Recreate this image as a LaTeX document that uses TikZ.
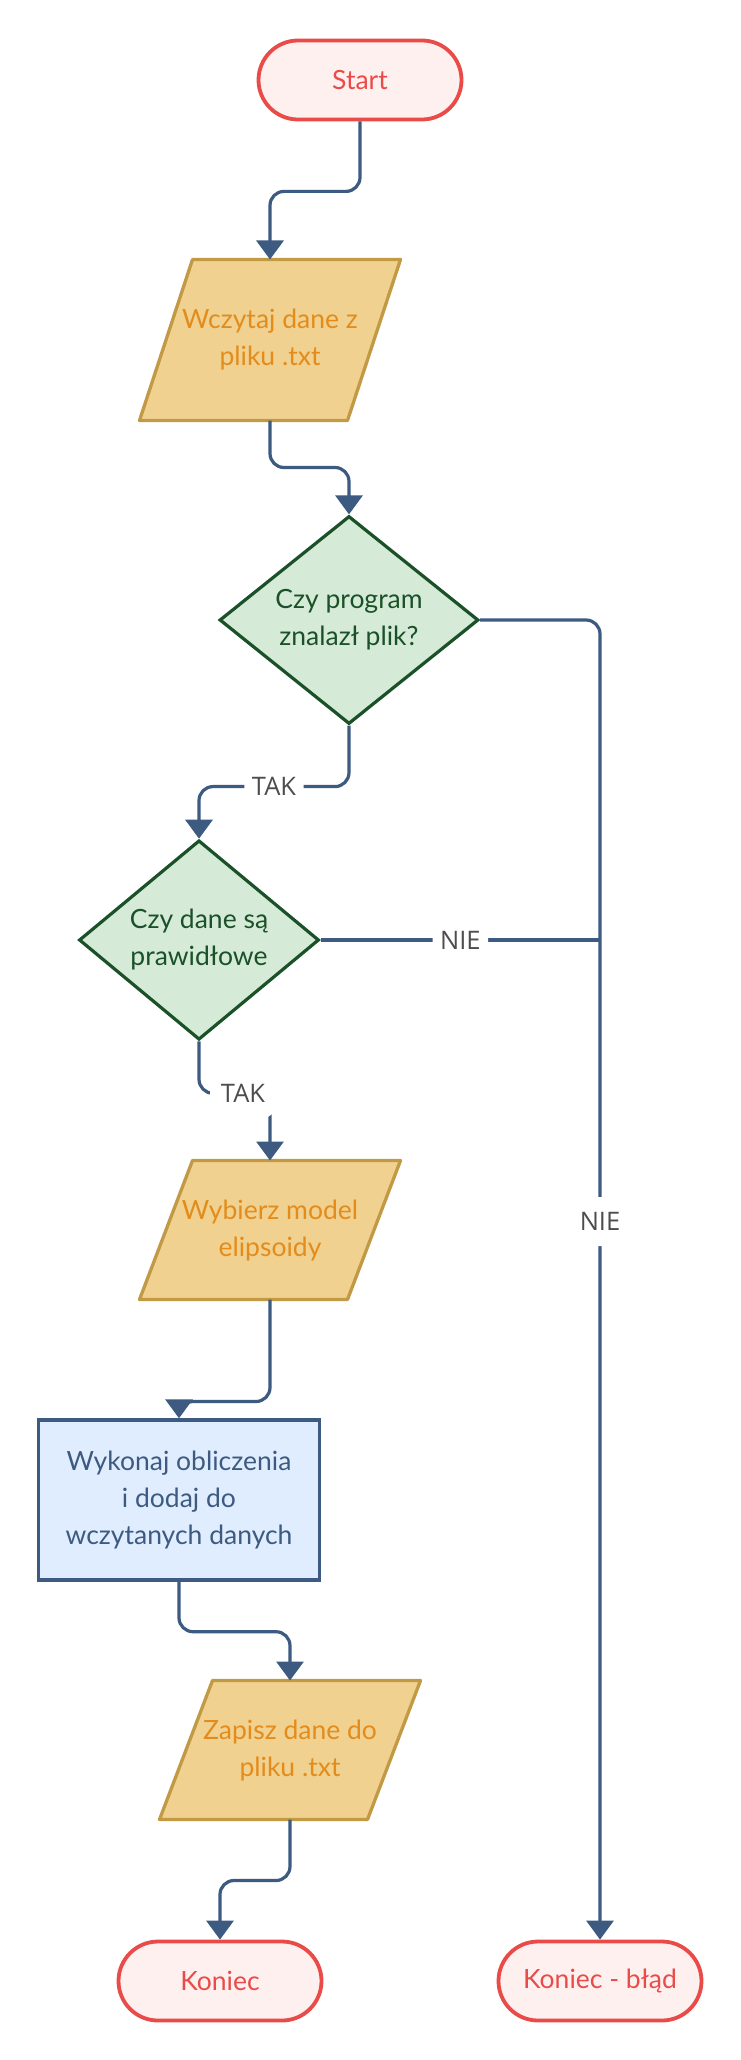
\documentclass[tikz,border=0pt]{standalone}
\usepackage{fontspec}
\setmainfont{Lato}
\newfontfamily\lblfont{Open Sans}
\usetikzlibrary{shapes.geometric,arrows.meta}
\pgfdeclarelayer{bg}
\pgfsetlayers{bg,main}
\definecolor{termfill}{HTML}{FFF0F0}
\definecolor{termdraw}{HTML}{E94B48}
\definecolor{iofill}{HTML}{F0D18F}
\definecolor{iodraw}{HTML}{C29A45}
\definecolor{iotext}{HTML}{E38C1C}
\definecolor{decfill}{HTML}{D5EBD8}
\definecolor{decdraw}{HTML}{1B5128}
\definecolor{procfill}{HTML}{E0EDFF}
\definecolor{procdraw}{HTML}{3D5A80}
\definecolor{conncol}{HTML}{3D5A80}
\definecolor{lblcol}{HTML}{4D4D4D}
\tikzset{
  txt/.style={font=\fontsize{26.5}{37}\selectfont, align=center},
  term/.style={txt, rectangle, draw=termdraw, fill=termfill, text=termdraw, line width=3.8pt,
    minimum width=203, minimum height=79, rounded corners=39.5pt, inner sep=0pt},
  iotxt/.style={txt, rectangle, text=iotext, minimum width=261, inner sep=0pt, outer sep=0pt},
  iobox/.style={draw=iodraw, fill=iofill, line width=3.3pt, line join=round},
  dec/.style={txt, diamond, draw=decdraw, fill=decfill, text=decdraw, line width=3.2pt,
    inner sep=0pt, minimum width=259, minimum height=200},
  proc/.style={txt, rectangle, draw=procdraw, fill=procfill, text=procdraw, line width=3.4pt,
    minimum width=281, minimum height=160, inner sep=0pt},
  conn/.style={draw=conncol, line width=3.2pt, rounded corners=14pt,
    -{Triangle[width=27pt,length=19pt]}},
  connplain/.style={draw=conncol, line width=3.2pt, rounded corners=14pt},
  lbl/.style={font=\lblfont\fontsize{25.5}{30}\selectfont, text=lblcol, fill=white,
    inner xsep=7.5pt, inner ysep=15.5pt, text height=18pt, text depth=0pt},
}
\begin{document}
\begin{tikzpicture}[x=1pt,y=-1pt]
\useasboundingbox (0,0) rectangle (740,2060);

% nodes
\node[term] (start) at (360,80) {Start};
\node[iotxt, minimum height=161] (p1) at (270,340) {Wczytaj dane z\\pliku .txt};
\node[dec] (d1) at (349,620) {Czy program\\znalazł plik?};
\node[dec, minimum width=240, minimum height=198] (d2) at (199,940) {Czy dane są\\prawidłowe};
\node[iotxt, minimum height=139] (p2) at (270,1230) {Wybierz model\\elipsoidy};
\node[proc] (r) at (179,1500) {Wykonaj obliczenia\\i dodaj do\\wczytanych danych};
\node[iotxt, minimum height=139] (p3) at (290,1750) {Zapisz dane do\\pliku .txt};
\node[term] (end) at (220,1981) {Koniec};
\node[term] (kb) at (600,1981) {Koniec - błąd};

% background and parallelogram outlines
\begin{pgfonlayer}{bg}
\fill[white] (0,0) rectangle (740,2060);
\foreach \n in {p1,p2,p3}
  \draw[iobox] ([xshift=53pt]\n.north west) -- (\n.north east)
     -- ([xshift=-53pt]\n.south east) -- (\n.south west) -- cycle;
\end{pgfonlayer}

% connectors
\draw[conn] (start.south) -- ++(0,70) -| (p1.north);
\draw[conn] (p1.south) -- ++(0,47) -| (d1.north);
\draw[conn] (d1.east) -| node[lbl, pos=0.728] {NIE} (kb.north);
\draw[conn] (d1.south) -- ++(0,61) -| node[lbl, pos=0.25] {TAK} (d2.north);
\draw[connplain] (d2.east) -- node[lbl] {NIE} (d2.east -| kb.north);
\draw[conn] (d2.south) -- ++(0,52) -| node[lbl, pos=0.31, minimum width=66pt, minimum height=50pt] {TAK} (p2.north);
\draw[conn] (p2.south) -- ++(0,102) -| (r.north);
\draw[conn] (r.south) -- ++(0,50) -| (p3.north);
\draw[conn] (p3.south) -- ++(0,61) -| (end.north);
\end{tikzpicture}
\end{document}
